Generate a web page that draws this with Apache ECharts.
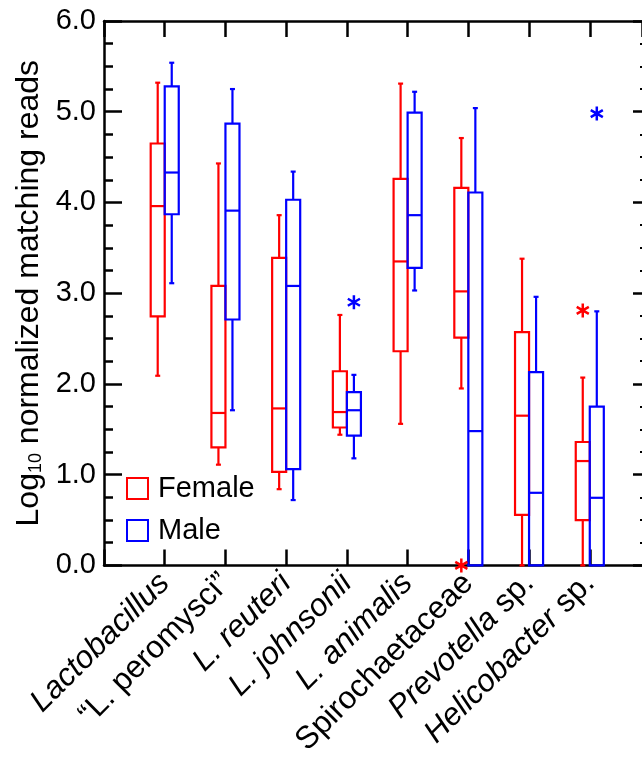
<!DOCTYPE html>
<html>
<head>
<meta charset="utf-8">
<script src="https://cdn.jsdelivr.net/npm/echarts@6/dist/echarts.min.js"></script>
<style>
html,body{margin:0;padding:0;background:#fff;}
#chart{width:642px;height:759px;}
</style>
</head>
<body>
<div id="chart"></div>
<script>
// ---- data ----
var categories = ["Lactobacillus", "\u201cL. peromysci\u201d", "L. reuteri", "L. johnsonii", "L. animalis", "Spirochaetaceae", "Prevotella sp.", "Helicobacter sp."];
var categoryRich = [
  "{i|Lactobacillus}",
  "{n|\u201cL. peromysci\u201d}",
  "{i|L. reuteri}",
  "{i|L. johnsonii}",
  "{i|L. animalis}",
  "{n|Spirochaetaceae}",
  "{i|Prevotella}{n| sp.}",
  "{i|Helicobacter}{n| sp.}"
];
// each: [min, q1, median, q3, max]
var femaleMin    = [2.09, 1.11, 0.84, 1.44, 1.56, 1.95, 0.00, 0.00];
var femaleQ1     = [2.745,1.30, 1.03, 1.52, 2.36, 2.51, 0.557,0.50];
var femaleMedian = [3.96, 1.68, 1.73, 1.69, 3.35, 3.02, 1.65, 1.15];
var femaleQ3     = [4.65, 3.08, 3.39, 2.14, 4.26, 4.16, 2.57, 1.36];
var femaleMax    = [5.32, 4.43, 3.86, 2.76, 5.31, 4.71, 3.38, 2.07];

var maleMin      = [3.11, 1.71, 0.72, 1.18, 3.03, 0.00, 0.00, 0.00];
var maleQ1       = [3.87, 2.71, 1.06, 1.43, 3.28, 0.00, 0.00, 0.00];
var maleMedian   = [4.33, 3.91, 3.08, 1.71, 3.86, 1.48, 0.80, 0.745];
var maleQ3       = [5.28, 4.87, 4.03, 1.91, 4.99, 4.11, 2.13, 1.75];
var maleMax      = [5.54, 5.25, 4.34, 2.10, 5.22, 5.04, 2.96, 2.80];

// outliers: [category index, value]
var femaleOutliers = [[5, 0.00], [7, 2.81]];
var maleOutliers   = [[3, 2.90], [7, 4.98]];

var yTicks = [0, 1, 2, 3, 4, 5, 6];

// ---- build ----
var RED = '#ff0000', BLUE = '#0000ff';
var HALF = 0.1155; // half box width in category units
var XMIN = -1, XMAX = 7.86;
var FONT = '"Liberation Sans", Arial, Helvetica, sans-serif';

function buildBox(mn, q1, md, q3, mx) {
  return categories.map(function (c, i) { return [i, mn[i], q1[i], md[i], q3[i], mx[i]]; });
}
function makeRender(offset, color) {
  return function (params, api) {
    var x = api.value(0) + offset;
    var mn = api.value(1), q1 = api.value(2), md = api.value(3), q3 = api.value(4), mx = api.value(5);
    var hw = api.size([HALF, 0])[0];
    var cx = api.coord([x, 0])[0];
    function Y(v) { return api.coord([x, v])[1]; }
    var st = { stroke: color, lineWidth: 2.2, fill: null };
    var cap = 2.5;
    var ch = [];
    ch.push({ type: 'rect', shape: { x: cx - hw, y: Y(q3), width: 2 * hw, height: Y(q1) - Y(q3) }, style: { stroke: color, lineWidth: 2.2, fill: 'none' } });
    ch.push({ type: 'line', shape: { x1: cx - hw, y1: Y(md), x2: cx + hw, y2: Y(md) }, style: st });
    if (mx > q3) {
      ch.push({ type: 'line', shape: { x1: cx, y1: Y(q3), x2: cx, y2: Y(mx) }, style: st });
      ch.push({ type: 'line', shape: { x1: cx - cap, y1: Y(mx), x2: cx + cap, y2: Y(mx) }, style: st });
    }
    if (mn < q1) {
      ch.push({ type: 'line', shape: { x1: cx, y1: Y(q1), x2: cx, y2: Y(mn) }, style: st });
      ch.push({ type: 'line', shape: { x1: cx - cap, y1: Y(mn), x2: cx + cap, y2: Y(mn) }, style: st });
    }
    return { type: 'group', children: ch };
  };
}
function shiftOutliers(arr, off) { return arr.map(function (p) { return [p[0] + off, p[1]]; }); }

var ASTER = 'path://M0,-10L0,10M-8.66,-5L8.66,5M-8.66,5L8.66,-5';
var axisCol = '#000';

var option = {
  animation: false,
  backgroundColor: '#fff',
  textStyle: { fontFamily: FONT },
  grid: { left: 104, top: 21, right: 0, bottom: 192, containLabel: false },
  legend: {
    left: 126, top: 474, orient: 'vertical', itemWidth: 21, itemHeight: 21, itemGap: 13, padding: 0,
    icon: 'rect',
    textStyle: { fontSize: 29, lineHeight: 22, color: '#000', fontFamily: FONT, padding: [0, 0, 0, 5] },
    data: [
      { name: 'Female', itemStyle: { color: 'rgba(0,0,0,0)', borderColor: RED, borderWidth: 2 } },
      { name: 'Male', itemStyle: { color: 'rgba(0,0,0,0)', borderColor: BLUE, borderWidth: 2 } }
    ]
  },
  xAxis: [
    {
      type: 'value', min: XMIN, max: XMAX, interval: 1, position: 'bottom',
      axisLine: { show: true, onZero: false, lineStyle: { color: axisCol, width: 2.5 } },
      axisTick: { show: true, inside: true, length: 16, lineStyle: { color: axisCol, width: 2.5 } },
      splitLine: { show: false },
      axisLabel: {
        rotate: 45, margin: 13, color: '#000', fontSize: 31.5, fontFamily: FONT,
        showMaxLabel: false,
        formatter: function (v) { var i = Math.round(v); return (i >= 0 && i < categoryRich.length) ? categoryRich[i] : ''; },
        rich: {
          i: { fontStyle: 'italic', fontSize: 31.5, fontFamily: FONT, color: '#000' },
          n: { fontSize: 31.5, fontFamily: FONT, color: '#000' }
        }
      }
    },
    {
      type: 'value', min: XMIN, max: XMAX, interval: 1, position: 'top',
      axisLine: { show: true, onZero: false, lineStyle: { color: axisCol, width: 2.5 } },
      axisTick: { show: true, inside: true, length: 16, lineStyle: { color: axisCol, width: 2.5 } },
      splitLine: { show: false }, axisLabel: { show: false }
    }
  ],
  yAxis: [
    {
      type: 'value', min: yTicks[0], max: yTicks[yTicks.length - 1], interval: 1, position: 'left',
      axisLine: { show: true, onZero: false, lineStyle: { color: axisCol, width: 2.5 } },
      axisTick: { show: true, inside: true, length: 18, lineStyle: { color: axisCol, width: 2.5 } },
      minorTick: { show: true, splitNumber: 4, length: 9, lineStyle: { color: axisCol, width: 2.5 } },
      splitLine: { show: false },
      axisLabel: { color: '#000', fontSize: 29, fontFamily: FONT, margin: 8, formatter: function (v) { return v.toFixed(1); } },
      name: '{a|Log}{s|10}{a| normalized matching reads}',
      nameLocation: 'middle', nameGap: 52, nameRotate: 90,
      nameTextStyle: {
        rich: {
          a: { fontSize: 32, fontFamily: FONT, color: '#000' },
          s: { fontSize: 18, fontFamily: FONT, color: '#000', verticalAlign: 'bottom', padding: [14, 0, 0, 0] }
        }
      }
    },
    {
      type: 'value', min: yTicks[0], max: yTicks[yTicks.length - 1], interval: 1, position: 'right',
      axisLine: { show: false, onZero: false },
      axisTick: { show: true, inside: true, length: 9, lineStyle: { color: axisCol, width: 2.5 } },
      minorTick: { show: true, splitNumber: 4, length: 2, lineStyle: { color: axisCol, width: 2 } },
      splitLine: { show: false }, axisLabel: { show: false }
    }
  ],
  series: [
    {
      name: 'Female', type: 'custom', xAxisIndex: 0, yAxisIndex: 0,
      itemStyle: { color: RED, borderColor: RED },
      encode: { x: 0, y: [1, 2, 3, 4, 5] },
      renderItem: makeRender(-HALF, RED),
      data: buildBox(femaleMin, femaleQ1, femaleMedian, femaleQ3, femaleMax),
      clip: false, z: 3
    },
    {
      name: 'Male', type: 'custom', xAxisIndex: 0, yAxisIndex: 0,
      itemStyle: { color: BLUE, borderColor: BLUE },
      encode: { x: 0, y: [1, 2, 3, 4, 5] },
      renderItem: makeRender(HALF, BLUE),
      data: buildBox(maleMin, maleQ1, maleMedian, maleQ3, maleMax),
      clip: false, z: 3
    },
    {
      name: 'Female outliers', type: 'scatter', symbol: ASTER, symbolSize: 14, symbolKeepAspect: true,
      itemStyle: { color: 'rgba(0,0,0,0)', borderColor: RED, borderWidth: 2.5, opacity: 1 },
      data: shiftOutliers(femaleOutliers, -HALF), clip: false, z: 4
    },
    {
      name: 'Male outliers', type: 'scatter', symbol: ASTER, symbolSize: 14, symbolKeepAspect: true,
      itemStyle: { color: 'rgba(0,0,0,0)', borderColor: BLUE, borderWidth: 2.5, opacity: 1 },
      data: shiftOutliers(maleOutliers, HALF), clip: false, z: 4
    }
  ]
};
var chart = echarts.init(document.getElementById('chart'), null, { renderer: 'canvas' });
chart.setOption(option);
</script>
</body>
</html>
